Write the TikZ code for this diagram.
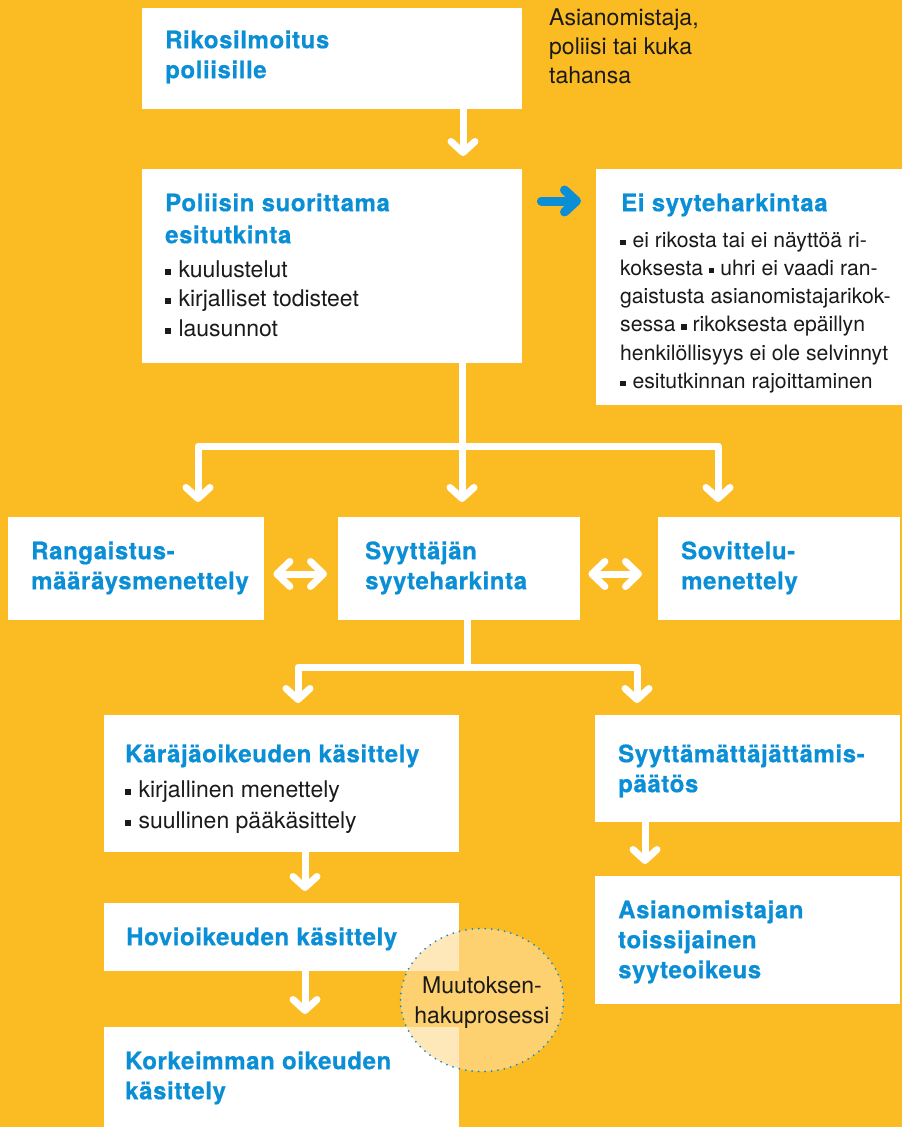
\documentclass[tikz,border=0pt]{standalone}
\usepackage{fontspec}
\setmainfont{TeX Gyre Heros}
\newfontfamily\hfont[LetterSpace=2.5,FakeBold=0.6]{TeX Gyre Heros}
\usetikzlibrary{arrows.meta,calc,shapes.geometric}
\definecolor{bg}{HTML}{FBBB22}
\definecolor{blu}{HTML}{0A8ED6}
\definecolor{ink}{HTML}{1A1A1A}
\definecolor{circ}{HTML}{FEDD97}
\newcommand\tp{\rule{0pt}{20pt}}
\newcommand\bq{\rule[0.1em]{0.25em}{0.26em}}
\newcommand\bi{\bq\hspace{0.33em}}
\tikzset{
  box/.style={fill=white, inner sep=0pt, anchor=north west},
  txt/.style={anchor=north west, inner sep=0pt, align=left, text=ink,
    font=\fontsize{23}{29.5}\selectfont},
  hd/.style={anchor=north west, inner sep=0pt, align=left, text=blu,
    font=\hfont\bfseries\fontsize{24}{30}\selectfont},
  wbarb/.tip={Straight Barb[length=11pt,width=24pt,round]},
  warr/.style={draw=white, line width=7pt, -{wbarb}},
  wtree/.style={draw=white, line width=7pt, line join=round, {wbarb}-{wbarb}},
  wl/.style={draw=white, line width=7pt},
  dbl/.style={draw=white, line width=7pt, {Straight Barb[length=13pt,width=25pt,round]}-{Straight Barb[length=13pt,width=25pt,round]}},
  barr/.style={draw=blu, line width=9pt, line cap=round, -{Straight Barb[length=12pt,width=22pt,round]}},
}
\begin{document}
\begin{tikzpicture}[x=1pt,y=-1pt]
\fill[bg] (0,0) rectangle (902,1127);
\useasboundingbox (0,0) rectangle (902,1127);

% boxes
\node[box,minimum width=380pt,minimum height=101pt] (b1) at (142,8) {};
\node[box,minimum width=380pt,minimum height=194pt] (b2) at (142,169) {};
\node[box,minimum width=306pt,minimum height=236pt] (b3) at (596,169) {};
\node[box,minimum width=256pt,minimum height=103pt] (b4) at (8,517) {};
\node[box,minimum width=242pt,minimum height=103pt] (b5) at (338,517) {};
\node[box,minimum width=242pt,minimum height=103pt] (b6) at (658,517) {};
\node[box,minimum width=355pt,minimum height=137pt] (b7) at (104,715) {};
\node[box,minimum width=305pt,minimum height=107pt] (b8) at (595,715) {};
\node[box,minimum width=305pt,minimum height=128pt] (b9) at (595,876) {};
\node[box,minimum width=355pt,minimum height=68pt] (b10) at (104,903) {};
\node[box,minimum width=355pt,minimum height=100pt] (b11) at (104,1027) {};

% helper coordinates
\coordinate (xa) at (463,0);
\coordinate (j1) at (462,446);
\coordinate (l1) at (198,0);
\coordinate (r1) at (718,0);
\coordinate (j2) at (467,667);
\coordinate (l2) at (298,0);
\coordinate (r2) at (637,0);
\coordinate (xk) at (305,0);
\coordinate (xs) at (645,0);
\coordinate (yb) at (0,201);
\coordinate (yd) at (0,574);

% connectors
\draw[warr, shorten >=13pt] (b1.south -| xa) -- (b2.north -| xa);
\draw[warr, shorten >=15pt] (b2.south -| j1) -- (b5.north -| j1);
\draw[wtree] ([yshift=15pt]b4.north -| l1) |- (j1) -| ([yshift=15pt]b6.north -| r1);
\draw[wl] (b5.south -| j2) -- (j2);
\draw[wtree] ([yshift=12pt]b7.north -| l2) |- (j2) -| ([yshift=12pt]b8.north -| r2);
\draw[warr, shorten >=12pt] (b7.south -| xk) -- (b10.north -| xk);
\draw[warr, shorten >=13pt] (b10.south -| xk) -- (b11.north -| xk);
\draw[warr, shorten >=12pt] (b8.south -| xs) -- (b9.north -| xs);
\draw[barr, shorten <=19pt, shorten >=15pt] (b2.east |- yb) -- (b3.west |- yb);
\draw[dbl, shorten <=9pt, shorten >=11pt] (b4.east |- yd) -- (b5.west |- yd);
\draw[dbl, shorten <=8pt, shorten >=16pt] (b5.east |- yd) -- (b6.west |- yd);

% circle
\node[ellipse, draw=blu, line width=2pt, dash pattern=on 0pt off 6.5pt, line cap=round,
  fill=circ, fill opacity=0.67, minimum width=163pt, minimum height=143pt, inner sep=0pt]
  (c) at (482,1000) {};

% texts
\node[hd] (t1) at (165,28) {\tp Rikosilmoitus\\poliisille};
\node[txt, font=\fontsize{23}{29}\selectfont] (t0) at (549,5) {\tp Asianomistaja,\\poliisi tai kuka\\tahansa};
\node[hd, font=\hfont\bfseries\fontsize{24}{32}\selectfont] (t2) at (165,191) {\tp Poliisin suorittama\\esitutkinta};
\node[txt] (t2b) at (165,257) {\tp\bi kuulustelut\\\bi kirjalliset todisteet\\\bi lausunnot};
\node[hd] (t3) at (621,191) {\tp Ei syyteharkintaa};
\node[txt, font=\fontsize{21.2}{28.2}\selectfont] (t3b) at (620,227)
  {\tp\bi ei rikosta tai ei näyttöä ri-\\koksesta \bq{} uhri ei vaadi ran-\\gaistusta asianomistajarikok-\\sessa \bq{} rikoksesta epäillyn\\henkilöllisyys ei ole selvinnyt\\\bi esitutkinnan rajoittaminen};
\node[hd] (t4) at (31,539) {\tp Rangaistus-\\määräysmenettely};
\node[hd] (t5) at (365,539) {\tp Syyttäjän\\syyteharkinta};
\node[hd] (t6) at (681,539) {\tp Sovittelu-\\menettely};
\node[hd] (t7) at (125,742) {\tp Käräjäoikeuden käsittely};
\node[txt, font=\fontsize{23}{31}\selectfont] (t7b) at (125,777) {\tp\bi kirjallinen menettely\\\bi suullinen pääkäsittely};
\node[hd] (t8) at (618,742) {\tp Syyttämättäjättämis-\\päätös};
\node[hd] (t9) at (618,898) {\tp Asianomistajan\\toissijainen\\syyteoikeus};
\node[hd] (t10) at (126,925) {\tp Hovioikeuden käsittely};
\node[hd] (t11) at (125,1049) {\tp Korkeimman oikeuden\\käsittely};
\node[txt, anchor=north, align=center, font=\fontsize{23}{30}\selectfont] (ct) at (482,973) {\tp Muutoksen-\\hakuprosessi};
\end{tikzpicture}
\end{document}
